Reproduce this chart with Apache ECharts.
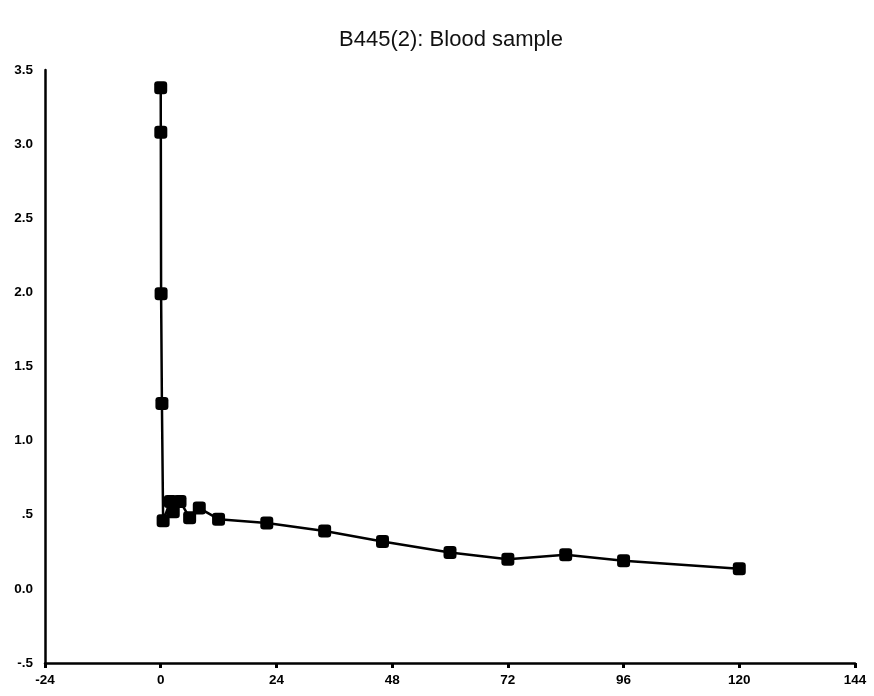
<!DOCTYPE html>
<html>
<head>
<meta charset="utf-8">
<script src="https://cdn.jsdelivr.net/npm/echarts@6/dist/echarts.min.js"></script>
<style>html,body{margin:0;padding:0;background:#fff;}#c{width:874px;height:696px;}</style>
</head>
<body>
<div id="c"></div>
<script>
const hours = [0, 0.02, 0.08, 0.25, 0.5, 2, 2.6, 4, 6, 8, 12, 22, 34, 46, 60, 72, 84, 96, 120];
const concentration = [3.38, 3.08, 1.99, 1.25, 0.46, 0.59, 0.52, 0.59, 0.48, 0.545, 0.47, 0.445, 0.39, 0.32, 0.245, 0.20, 0.23, 0.19, 0.135];
const xTicks = [-24, 0, 24, 48, 72, 96, 120, 144];
const yTickLabels = {"-0.5": "-.5", "0": "0.0", "0.5": ".5", "1": "1.0", "1.5": "1.5", "2": "2.0", "2.5": "2.5", "3": "3.0", "3.5": "3.5"};
const titleText = "B445(2): Blood sample";

const chart = echarts.init(document.getElementById('c'));
chart.setOption({
  animation: false,
  backgroundColor: '#fff',
  title: {
    text: titleText,
    left: 446, top: 24, textAlign: 'center',
    textStyle: {fontFamily: 'Liberation Sans', fontSize: 22, fontWeight: 'normal', color: '#111'}
  },
  grid: {left: 45, right: 19, top: 70, bottom: 33, containLabel: false},
  xAxis: {
    type: 'value', min: -24, max: 144, interval: 24,
    axisLine: {show: true, onZero: false, lineStyle: {color: '#000', width: 2.5}},
    axisTick: {show: true, length: 5, lineStyle: {color: '#000', width: 3}},
    splitLine: {show: false},
    axisLabel: {
      margin: 10, color: '#000', fontFamily: 'Liberation Sans', fontSize: 13.5, fontWeight: 'bold',
      formatter: v => xTicks.includes(v) ? String(v) : ''
    }
  },
  yAxis: {
    type: 'value', min: -0.5, max: 3.5, interval: 0.5,
    axisLine: {show: true, onZero: false, lineStyle: {color: '#000', width: 2.5}},
    axisTick: {show: false},
    splitLine: {show: false},
    axisLabel: {
      margin: 12, color: '#000', fontFamily: 'Liberation Sans', fontSize: 13.5, fontWeight: 'bold',
      formatter: v => {
        const k = String(Math.round(v * 10) / 10);
        return yTickLabels[k] !== undefined ? yTickLabels[k] : k;
      }
    }
  },
  series: [{
    type: 'line',
    data: hours.map((h, i) => [h, concentration[i]]),
    symbol: 'roundRect',
    symbolSize: 13,
    itemStyle: {color: '#000'},
    lineStyle: {color: '#000', width: 2.5},
    z: 5
  }]
});
</script>
</body>
</html>
